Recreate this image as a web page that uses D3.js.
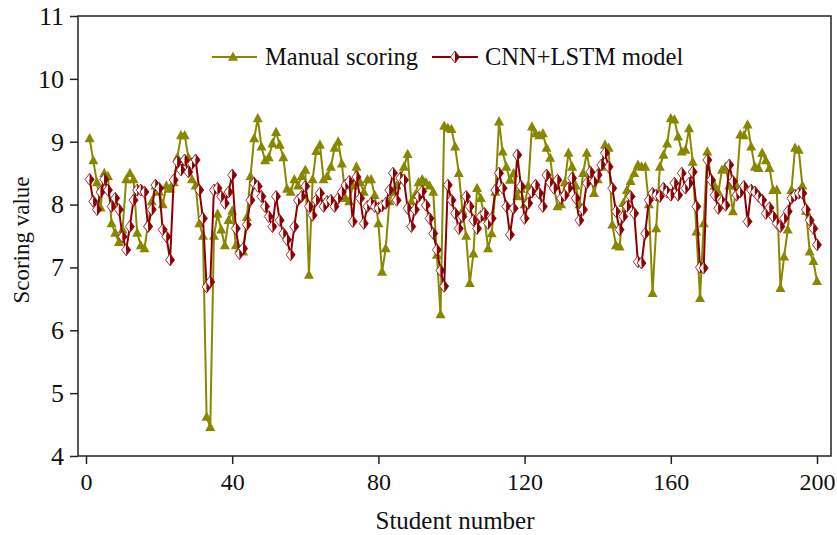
<!DOCTYPE html>
<head>
    <meta charset="UTF-8">
    <title>Scoring comparison</title>
</head>
<style>
    body { margin: 0; background: #fff; }
    svg text { font-family: "Liberation Serif", "Times New Roman", serif !important; fill: #111; }
</style>
<body>
<script src="https://d3js.org/d3.v7.min.js"></script>
<script>
    // 人工评分 与 CNN+LSTM 模型评分，学生编号 1..200
    var manualScores = [
        9.05, 8.7, 8.35, 7.95, 8.5, 8.45, 7.7, 7.55, 7.4, 7.6,
        8.4, 8.5, 8.4, 7.55, 7.35, 7.3, 7.7, 8.05, 8.3, 8.2,
        8.0, 8.3, 8.25, 8.35, 8.75, 9.1, 9.1, 8.75, 8.4, 8.3,
        7.7, 7.5, 4.62, 4.46, 7.5, 7.85, 7.6, 7.35, 7.75, 7.9,
        7.35, 7.3, 7.25, 7.8, 8.45, 9.05, 9.37, 8.92, 8.7, 8.75,
        8.97, 9.15, 8.95, 8.75, 8.25, 8.2, 8.4, 8.3, 8.45, 8.55,
        6.88, 8.4, 8.85, 8.95, 8.4, 8.45, 8.6, 8.9, 9.0, 8.65,
        8.1, 8.05, 8.3, 8.6, 8.35, 8.2, 8.4, 8.4, 8.15, 7.7,
        6.93, 7.3, 8.05, 8.2, 8.3, 8.45, 8.6, 8.8, 8.05, 8.15,
        8.35, 8.4, 8.35, 8.3, 8.2, 7.2, 6.25, 9.25, 9.22, 9.2,
        8.92, 8.5, 7.9, 7.5, 6.75, 7.22, 8.26, 8.1, 7.8, 7.3,
        7.54, 8.2, 9.32, 8.84, 8.6, 8.39, 8.5, 8.13, 8.25, 8.0,
        8.3, 9.24, 9.13, 9.1, 9.13, 8.9, 8.74, 8.3, 7.97, 8.0,
        8.35, 8.82, 8.6, 8.3, 8.0, 8.5, 8.82, 8.5, 8.18, 8.4,
        8.6, 8.95, 8.9, 7.68, 7.35, 7.33, 8.02, 8.23, 8.37, 8.5,
        8.63, 8.6, 8.6, 8.0, 6.59, 7.62, 8.6, 8.79, 8.97, 9.37,
        9.35, 9.08, 8.84, 8.87, 9.21, 8.68, 7.57, 6.51, 7.7, 8.84,
        8.42, 8.3, 8.2, 8.55, 8.6, 8.3, 7.89, 8.3, 9.11, 9.1,
        9.27, 8.92, 8.6, 8.58, 8.82, 8.7, 8.58, 8.23, 8.23, 6.67,
        7.17, 7.6, 8.23, 8.9, 8.87, 8.3, 7.9, 7.25, 7.1, 6.78
    ];
    var modelScores = [
        8.4, 8.05, 7.92, 8.2, 8.4, 8.23, 7.97, 8.1, 7.92, 7.49,
        7.28, 7.65, 8.07, 8.23, 8.23, 8.2, 7.65, 7.92, 8.31, 8.26,
        7.6, 7.49, 7.12, 8.39, 8.68, 8.55, 8.71, 8.52, 8.65, 8.71,
        8.23, 7.78, 6.69, 6.77, 8.23, 8.26, 8.13, 8.02, 8.2, 8.47,
        7.62, 7.22, 7.3, 7.68, 8.07, 8.34, 8.29, 8.13, 7.97, 7.81,
        7.65, 8.13, 7.75, 7.54, 7.44, 7.2, 7.65, 8.07, 8.13, 8.29,
        7.97, 7.83, 8.07, 8.18, 7.97, 8.05, 8.07, 7.97, 8.1, 8.2,
        8.31, 8.37, 7.73, 8.44, 8.1, 7.7, 7.97, 8.02, 7.97, 7.94,
        7.98, 8.02, 8.23, 8.5, 8.07, 8.42, 8.39, 7.94, 7.65, 7.92,
        8.13, 8.21, 7.99, 7.78, 7.54, 7.28, 6.95, 6.7, 8.31, 8.07,
        7.86, 7.62, 7.81, 8.13, 7.97, 7.75, 7.62, 7.81, 7.86, 7.7,
        7.78, 8.23, 8.5, 8.26, 7.97, 7.52, 7.94, 8.79, 8.29, 7.78,
        8.02, 8.2, 8.31, 8.18, 7.97, 8.47, 8.35, 8.26, 8.39, 8.1,
        8.15, 8.26, 8.42, 8.1, 7.75, 7.92, 8.34, 8.52, 8.37, 8.47,
        8.63, 8.82, 8.6, 8.26, 7.89, 7.6, 7.81, 7.97, 8.13, 7.86,
        7.09, 7.07, 7.54, 8.07, 8.18, 8.15, 8.13, 8.26, 8.2, 8.15,
        8.34, 8.15, 8.5, 8.26, 8.34, 8.52, 7.97, 7.0, 6.99, 8.71,
        8.39, 8.15, 7.94, 8.05, 7.99, 8.63, 8.37, 8.15, 8.2, 8.29,
        7.73, 8.23, 8.2, 8.13, 8.07, 7.86, 7.95, 7.81, 7.7, 7.65,
        7.78, 7.89, 8.1, 8.15, 8.18, 8.18, 7.92, 7.75, 7.62, 7.36
    ];
    var seriesNames = ["Manual scoring", "CNN+LSTM model"];
    var xTicks = [0, 40, 80, 120, 160, 200];
    var yTicks = [4, 5, 6, 7, 8, 9, 10, 11];

    var olive = "#888800",
        darkRed = "#8b0000";

    var W = 837, H = 535;
    var box = {left: 78, right: 831, top: 16, bottom: 456};

    var x = d3.scaleLinear().domain([0, 200]).range([86, 817]);
    var y = d3.scaleLinear().domain([4, 11]).range([box.bottom, box.top]);

    var svg = d3.select("body").append("svg")
        .attr("width", W)
        .attr("height", H);

    // 边框
    svg.append("rect")
        .attr("x", box.left).attr("y", box.top)
        .attr("width", box.right - box.left)
        .attr("height", box.bottom - box.top)
        .attr("fill", "none")
        .attr("stroke", "#222")
        .attr("stroke-width", 1.5);

    var xAxis = svg.append("g")
        .attr("transform", "translate(0," + box.bottom + ")")
        .call(d3.axisBottom(x).tickValues(xTicks).tickSize(8).tickSizeOuter(0).tickPadding(3));
    xAxis.select(".domain").remove();
    xAxis.selectAll("line").attr("stroke", "#222").attr("stroke-width", 1.5);
    xAxis.selectAll("text").attr("font-size", "24px").attr("dy", "0.95em");

    var yAxis = svg.append("g")
        .attr("transform", "translate(" + box.left + ",0)")
        .call(d3.axisLeft(y).tickValues(yTicks).tickFormat(d3.format("d"))
            .tickSize(8).tickSizeOuter(0).tickPadding(6));
    yAxis.select(".domain").remove();
    yAxis.selectAll("line").attr("stroke", "#222").attr("stroke-width", 1.5);
    yAxis.selectAll("text").attr("font-size", "26px");

    svg.append("text")
        .attr("x", 455)
        .attr("y", 529)
        .attr("text-anchor", "middle")
        .attr("font-size", "25px")
        .text("Student number");

    svg.append("text")
        .attr("transform", "translate(29," + ((box.top + box.bottom) / 2 + 4) + ") rotate(-90)")
        .attr("text-anchor", "middle")
        .attr("font-size", "23px")
        .text("Scoring value");

    var manual = manualScores.map(function(v, i) { return {n: i + 1, v: v}; });
    var model = modelScores.map(function(v, i) { return {n: i + 1, v: v}; });

    var line = d3.line()
        .x(function(d) { return x(d.n); })
        .y(function(d) { return y(d.v); });

    var triPath = "M0,-5.5L5,3.8L-5,3.8Z";
    var diaLeft = "M0,-6L-4.5,0L0,6Z",
        diaRight = "M0,-6L4.5,0L0,6Z",
        diaFull = "M0,-6L4.5,0L0,6L-4.5,0Z";

    svg.append("path")
        .datum(manual)
        .attr("d", line)
        .attr("fill", "none")
        .attr("stroke", olive)
        .attr("stroke-width", 2);

    svg.append("g").selectAll("path")
        .data(manual)
        .enter().append("path")
        .attr("transform", function(d) { return "translate(" + x(d.n) + "," + y(d.v) + ")"; })
        .attr("d", triPath)
        .attr("fill", olive);

    svg.append("path")
        .datum(model)
        .attr("d", line)
        .attr("fill", "none")
        .attr("stroke", darkRed)
        .attr("stroke-width", 2);

    function diamond(g) {
        g.append("path").attr("d", diaLeft).attr("fill", "#fff");
        g.append("path").attr("d", diaRight).attr("fill", darkRed);
        g.append("path").attr("d", diaFull).attr("fill", "none")
            .attr("stroke", darkRed).attr("stroke-width", 0.8);
    }

    svg.append("g").selectAll("g")
        .data(model)
        .enter().append("g")
        .attr("transform", function(d) { return "translate(" + x(d.n) + "," + y(d.v) + ")"; })
        .each(function() { diamond(d3.select(this)); });

    // 图例
    var legend = svg.append("g").attr("transform", "translate(0,57)");
    legend.append("line").attr("x1", 212).attr("x2", 257).attr("y1", 0).attr("y2", 0)
        .attr("stroke", olive).attr("stroke-width", 2);
    legend.append("path").attr("transform", "translate(233,0)").attr("d", triPath).attr("fill", olive);
    legend.append("text").attr("x", 265).attr("y", 8).attr("font-size", "24.5px").text(seriesNames[0]);

    legend.append("line").attr("x1", 432).attr("x2", 478).attr("y1", 0).attr("y2", 0)
        .attr("stroke", darkRed).attr("stroke-width", 2);
    diamond(legend.append("g").attr("transform", "translate(455,0)"));
    legend.append("text").attr("x", 485).attr("y", 8).attr("font-size", "24.5px").text(seriesNames[1]);
</script>
</body>
